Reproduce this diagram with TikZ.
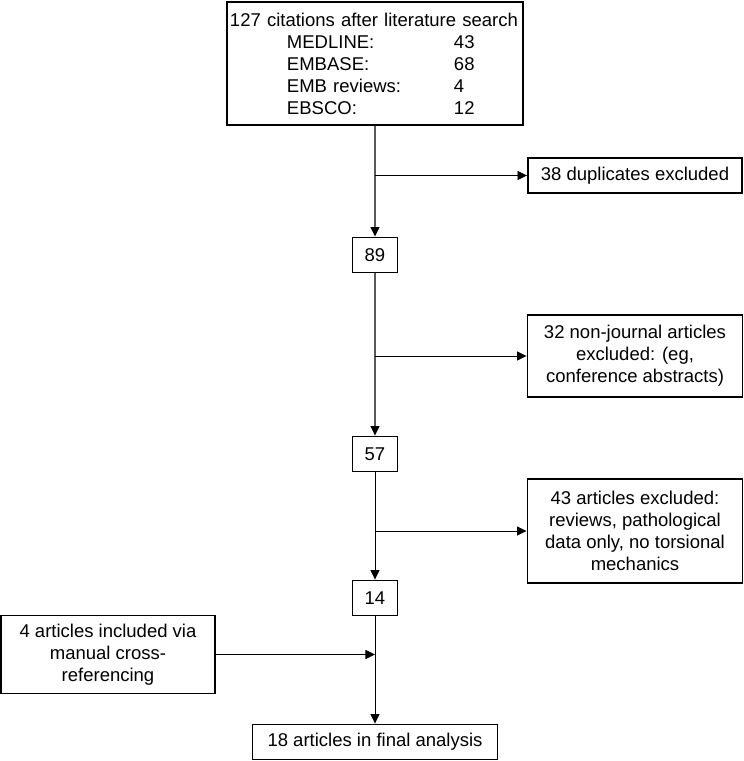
\documentclass[tikz,border=0pt]{standalone}
\usepackage{fontspec}
\setmainfont{Liberation Sans}
\usetikzlibrary{arrows.meta}

\begin{document}
\begin{tikzpicture}[ node distance=144pt, every node/.style={draw, line width=1.9pt, fill=white, font=\fontsize{18.5}{22}\selectfont}, align=center, >={Triangle[length=9.5pt,width=9pt,color=black]}]
\useasboundingbox (-375pt,63.5pt) rectangle (369pt,-697.5pt);
% Specification of nodes (position, etc.)

\node (search)            [text width=290pt, minimum height=123pt, align=left, inner xsep=3pt]
    {127 citations after literature search\\
     \hspace*{57pt}\makebox[167pt][l]{MEDLINE:}43\\
     \hspace*{57pt}\makebox[167pt][l]{EMBASE:}68\\
     \hspace*{57pt}\makebox[167pt][l]{EMB reviews:}4\\
     \hspace*{57pt}\makebox[167pt][l]{EBSCO:}12};

\node (n89)               [below of=search, yshift=-47.5pt, minimum width=45pt, minimum height=35pt]   {89};
\node (duplicates)        [right of=n89, xshift=116pt, yshift=79.5pt, minimum width=214pt, minimum height=35pt]   {38 duplicates excluded};

\node (n57)               [below of=n89, yshift=-55pt, minimum width=45pt, minimum height=35pt]   {57};
\node (nonjournal)        [right of=n57, xshift=116pt, yshift=98pt, minimum width=215pt, minimum height=82pt]   {32 non-journal articles\\ excluded: (eg,\\ conference abstracts)};

\node (n14)               [below of=n57, minimum width=45pt, minimum height=35pt]   {14};
\node (excluded)          [right of=n14, xshift=116pt, yshift=67pt, minimum width=215pt, minimum height=104pt]   {43 articles excluded:\\ reviews, pathological\\ data only, no torsional\\ mechanics};

\node (final)             [below of=n14, minimum width=245pt, minimum height=35pt]   {18 articles in final analysis};
\node (manual)            [left of=final, xshift=-123pt, yshift=87.5pt, minimum width=214pt, minimum height=78pt]   {4 articles included via\\ manual cross-\\ referencing};

% points where the side arrows leave or join the main line
\coordinate (fork1) at (search.south |- duplicates.west);
\coordinate (fork2) at (n89.south |- nonjournal.west);
\coordinate (fork3) at (n57.south |- excluded.west);
\coordinate (join)  at (n14.south |- manual.east);

\draw[->, black!65, line width=1.2pt]   (search) -- (n89);
\draw[->, black!65, line width=1.2pt]   (n89) -- (n57);
\draw[->, line width=0.9pt]             (n57) -- (n14);
\draw[->, line width=0.9pt]             (n14) -- (final);

\draw[->, line width=0.9pt]             (fork1) -- (duplicates);
\draw[->, line width=0.9pt]             (fork2) -- (nonjournal);
\draw[->, line width=0.9pt]             (fork3) -- (excluded);
\draw[->, line width=0.9pt]             (manual) -- (join);

\end{tikzpicture}
\end{document}
